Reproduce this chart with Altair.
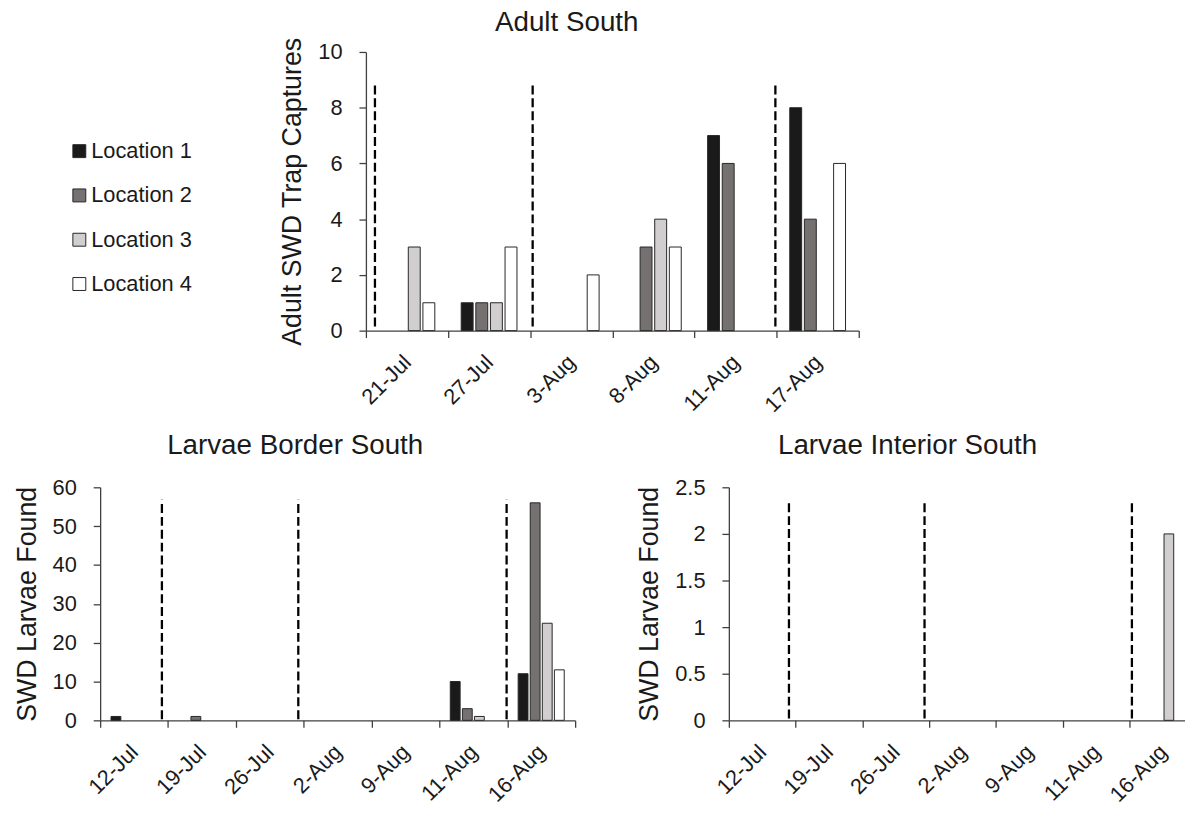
import altair as alt
import pandas as pd

FONT = "Liberation Sans"
INK = "#1a1a1a"
AXIS_GREY = "#404040"
BAR_EDGE = "#262626"

LOCATIONS = ["Location 1", "Location 2", "Location 3", "Location 4"]
LOCATION_FILLS = ["#1a1a1a", "#767171", "#d0cece", "#ffffff"]

# Adult South: trap captures per location on each sampling date
adult_dates = ["21-Jul", "27-Jul", "3-Aug", "8-Aug", "11-Aug", "17-Aug"]
adult_loc1 = [0, 1, 0, 0, 7, 8]
adult_loc2 = [0, 1, 0, 3, 6, 4]
adult_loc3 = [3, 1, 0, 4, 0, 0]
adult_loc4 = [1, 3, 2, 3, 0, 6]
# dashed event markers, in date-slot units along the x axis, and their vertical span
adult_events = [0.11, 2.03, 4.985]
adult_event_span = [0.15, 8.9]

# Larvae found in fruit samples
larvae_dates = ["12-Jul", "19-Jul", "26-Jul", "2-Aug", "9-Aug", "11-Aug", "16-Aug"]
border_loc1 = [1, 0, 0, 0, 0, 10, 12]
border_loc2 = [0, 1, 0, 0, 0, 3, 56]
border_loc3 = [0, 0, 0, 0, 0, 1, 25]
border_loc4 = [0, 0, 0, 0, 0, 0, 13]
border_events = [0.91, 2.92, 5.99]
border_event_span = [0.3, 56.8]

interior_loc1 = [0, 0, 0, 0, 0, 0, 0]
interior_loc2 = [0, 0, 0, 0, 0, 0, 0]
interior_loc3 = [0, 0, 0, 0, 0, 0, 2]
interior_loc4 = [0, 0, 0, 0, 0, 0, 0]
interior_events = [0.9, 2.93, 6.035]
interior_event_span = [0.02, 2.37]

# clustered-bar geometry inside one date slot (slot width = 1)
BAR_START = 0.16
BAR_STEP = 0.178
BAR_WIDTH = 0.145

LABEL_SIZE = 22
AXIS_TITLE_SIZE = 27
TITLE_SIZE = 28


def long_table(series):
    rows = []
    for k, (loc, vals) in enumerate(zip(LOCATIONS, series)):
        for slot, v in enumerate(vals):
            if v > 0:
                rows.append({"slot": slot, "k": k, "loc": loc, "value": v})
    return pd.DataFrame(rows, columns=["slot", "k", "loc", "value"])


def x_axis(dates, xmax):
    n = len(dates)
    names = "[" + ",".join("'" + d + "'" for d in dates) + "]"
    vals = [h / 2 for h in range(2 * n + 1) if h / 2 <= xmax]
    return alt.Axis(
        values=vals,
        title=None,
        grid=False,
        labelExpr=f"datum.value % 1 == 0.5 ? {names}[floor(datum.value)] : ''",
        tickOpacity={"condition": {"test": "datum.value % 1 == 0", "value": 1}, "value": 0},
        tickSize=7,
        labelAngle=-45,
        labelAlign="right",
        labelBaseline="middle",
        labelPadding=21,
        labelOverlap=False,
        labelFlush=False,
        labelBound=False,
    )


def panel(title, title_params, dates, series, events, span, ymax, ystep, yfmt,
          ytitle, width, height, xmax=None):
    n = len(dates)
    xmax = n if xmax is None else xmax
    xscale = alt.Scale(domain=[0, xmax], nice=False, zero=False)
    yscale = alt.Scale(domain=[0, ymax], nice=False)
    yvals = [round(i * ystep, 3) for i in range(int(round(ymax / ystep)) + 1)]
    xaxis = x_axis(dates, xmax)
    yaxis = alt.Axis(values=yvals, title=ytitle, grid=False, tickSize=7,
                     labelPadding=17, titlePadding=11, format=yfmt,
                     labelOverlap=False)

    bars = (
        alt.Chart(long_table(series))
        .transform_calculate(x0=f"datum.slot + {BAR_START} + datum.k * {BAR_STEP}")
        .transform_calculate(x1=f"datum.x0 + {BAR_WIDTH}")
        .mark_bar(stroke=BAR_EDGE, strokeWidth=1)
        .encode(
            x=alt.X("x0:Q", scale=xscale, axis=xaxis),
            x2="x1:Q",
            y=alt.Y("value:Q", scale=yscale, axis=yaxis),
            y2=alt.datum(0),
            color=alt.Color("loc:N",
                            scale=alt.Scale(domain=LOCATIONS, range=LOCATION_FILLS),
                            legend=None),
        )
    )

    ev = pd.DataFrame({"pos": events, "lo": [span[0]] * len(events),
                       "hi": [span[1]] * len(events)})
    rules = (
        alt.Chart(ev)
        .mark_rule(color="black", strokeWidth=2.3, strokeDash=[9, 4])
        .encode(x=alt.X("pos:Q", scale=xscale, axis=xaxis),
                y=alt.Y("lo:Q", scale=yscale, axis=yaxis),
                y2="hi:Q")
    )
    return alt.layer(bars, rules).properties(
        width=width, height=height,
        title=alt.TitleParams(title, **title_params),
    )


# location key shown to the left of the adult panel
key_base = alt.Chart(pd.DataFrame({"loc": LOCATIONS})).encode(
    y=alt.Y("loc:N",
            scale=alt.Scale(type="point", domain=LOCATIONS, range=[100, 234], padding=0),
            axis=None),
    x=alt.value(-21),
)
key_boxes = key_base.mark_square(size=170, stroke=BAR_EDGE, strokeWidth=1,
                                 opacity=1).encode(
    color=alt.Color("loc:N", scale=alt.Scale(domain=LOCATIONS, range=LOCATION_FILLS),
                    legend=None)
)
key_text = key_base.mark_text(align="left", baseline="middle", dx=12,
                              font=FONT, fontSize=LABEL_SIZE, color=INK).encode(
    text="loc:N"
)
key = alt.layer(key_boxes, key_text).properties(width=100, height=281)

adult = panel(
    "Adult South", dict(anchor="middle", frame="group", dx=-46, offset=0),
    adult_dates, [adult_loc1, adult_loc2, adult_loc3, adult_loc4],
    adult_events, adult_event_span, 10, 2, "d",
    "Adult SWD Trap Captures", 497, 281,
)

border = panel(
    "Larvae Border South", dict(anchor="middle", frame="bounds", dx=-3, offset=17),
    larvae_dates, [border_loc1, border_loc2, border_loc3, border_loc4],
    border_events, border_event_span, 60, 10, "d",
    "SWD Larvae Found", 479, 235,
)

interior = panel(
    "Larvae Interior South", dict(anchor="middle", frame="bounds", dx=-3, offset=17),
    larvae_dates, [interior_loc1, interior_loc2, interior_loc3, interior_loc4],
    interior_events, interior_event_span, 2.5, 0.5, ".1~f",
    "SWD Larvae Found", 460, 235, xmax=6.83,
)

top_row = alt.hconcat(key, adult, spacing=80)
bottom_row = alt.hconcat(border, interior, spacing=53)

chart = (
    alt.vconcat(top_row, bottom_row, spacing=16)
    .properties(padding={"left": 13, "top": 5, "right": 0, "bottom": 0})
    .configure_view(stroke=None)
    .configure_axis(
        domainColor=AXIS_GREY, tickColor=AXIS_GREY, domainWidth=1.3, tickWidth=1.3,
        labelColor=INK, titleColor=INK, labelFont=FONT, titleFont=FONT,
        labelFontSize=LABEL_SIZE, titleFontSize=AXIS_TITLE_SIZE,
        titleFontWeight="normal",
    )
    .configure_title(font=FONT, fontSize=TITLE_SIZE, fontWeight="normal", color=INK)
)

chart.save("out.html", embed_options={"renderer": "svg", "actions": False})
